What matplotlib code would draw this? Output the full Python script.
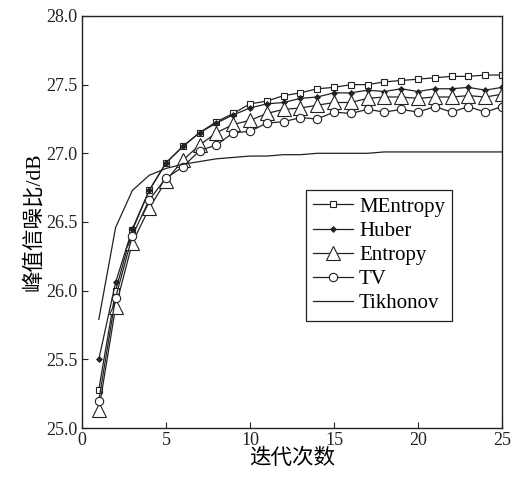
import matplotlib
matplotlib.use("Agg")
import matplotlib.pyplot as plt

plt.rcParams['font.family'] = ['Liberation Serif', 'Noto Sans CJK SC']

# iterations 1..25
iters = list(range(1, 26))

mentropy = [25.28, 26.00, 26.44, 26.73, 26.93, 27.05, 27.15, 27.23, 27.29, 27.36,
            27.38, 27.42, 27.44, 27.47, 27.48, 27.50, 27.50, 27.52, 27.53, 27.54,
            27.55, 27.56, 27.56, 27.57, 27.57]
huber = [25.50, 26.06, 26.45, 26.73, 26.93, 27.05, 27.15, 27.22, 27.28, 27.33,
         27.36, 27.37, 27.40, 27.41, 27.44, 27.44, 27.46, 27.45, 27.47, 27.45,
         27.47, 27.47, 27.48, 27.46, 27.48]
entropy = [25.13, 25.88, 26.35, 26.60, 26.80, 26.95, 27.06, 27.15, 27.21, 27.24,
           27.29, 27.32, 27.33, 27.35, 27.37, 27.37, 27.40, 27.41, 27.41, 27.40,
           27.41, 27.41, 27.42, 27.41, 27.43]
tv = [25.20, 25.95, 26.40, 26.66, 26.82, 26.90, 27.02, 27.06, 27.15, 27.16,
      27.22, 27.23, 27.26, 27.25, 27.30, 27.29, 27.32, 27.30, 27.32, 27.30,
      27.34, 27.30, 27.34, 27.30, 27.34]
tikhonov = [25.79, 26.46, 26.73, 26.84, 26.89, 26.92, 26.94, 26.96, 26.97, 26.98,
            26.98, 26.99, 26.99, 27.00, 27.00, 27.00, 27.00, 27.01, 27.01, 27.01,
            27.01, 27.01, 27.01, 27.01, 27.01]

fig = plt.figure(figsize=(5.24, 4.78), dpi=100)
ax = fig.add_axes([0.1565, 0.1046, 0.8015, 0.862])

c = '#222222'
ax.plot(iters, mentropy, '-s', color=c, lw=0.9, ms=4.5, mfc='white', mew=0.8, label='MEntropy')
ax.plot(iters, huber, '-D', color=c, lw=0.9, ms=3, mfc=c, mew=0.6, label='Huber')
ax.plot(iters, entropy, '-^', color=c, lw=0.9, ms=9.5, mfc='white', mew=0.8, label='Entropy')
ax.plot(iters, tv, '-o', color=c, lw=0.9, ms=6, mfc='white', mew=0.8, label='TV')
ax.plot(iters, tikhonov, '-', color=c, lw=0.9, label='Tikhonov')

ax.set_xlim(0, 25)
ax.set_ylim(25.0, 28.0)
ax.set_xticks([0, 5, 10, 15, 20, 25])
ax.set_yticks([25.0, 25.5, 26.0, 26.5, 27.0, 27.5, 28.0])
ax.set_yticklabels(['25.0', '25.5', '26.0', '26.5', '27.0', '27.5', '28.0'])
ax.tick_params(direction='in', length=4, labelsize=13, colors=c, pad=3)
for s in ax.spines.values():
    s.set_color(c)
    s.set_linewidth(1.0)

ax.set_xlabel('迭代次数', fontsize=15.5, labelpad=0)
ax.set_ylabel('峰值信噪比/dB', fontsize=15.5, labelpad=2)

leg = ax.legend(loc='upper left', bbox_to_anchor=(0.533, 0.578), borderaxespad=0,
                fancybox=False, edgecolor=c, fontsize=15, handlelength=1.9,
                borderpad=0.35, labelspacing=0.22, handletextpad=0.3, framealpha=1)
leg.get_frame().set_linewidth(0.9)

fig.savefig('out.png', dpi=100)
